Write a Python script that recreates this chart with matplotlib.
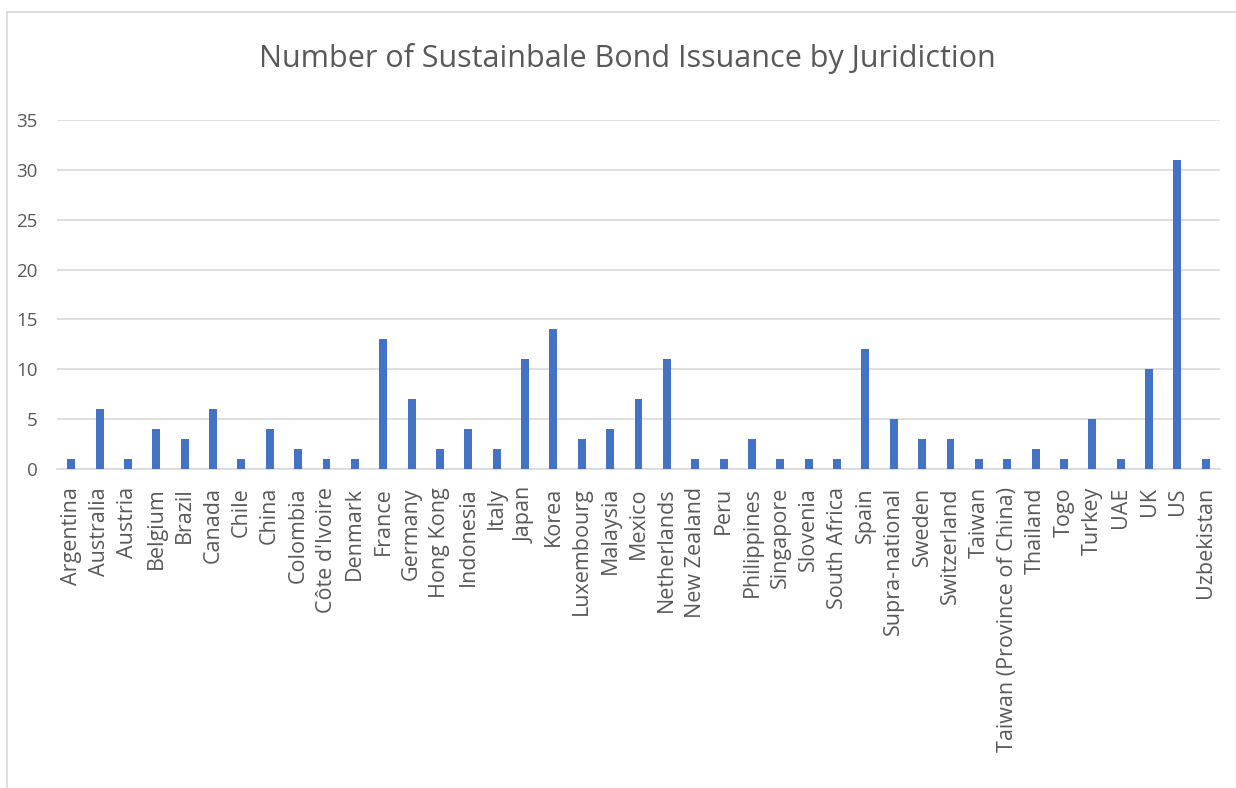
import matplotlib.pyplot as plt
import numpy as np

# jurisdictions and number of issuances
countries = ['Argentina', 'Australia', 'Austria', 'Belgium', 'Brazil', 'Canada',
             'Chile', 'China', 'Colombia', 'Côte d\'Ivoire', 'Denmark', 'France',
             'Germany', 'Hong Kong', 'Indonesia', 'Italy', 'Japan', 'Korea',
             'Luxembourg', 'Malaysia', 'Mexico', 'Netherlands', 'New Zealand',
             'Peru', 'Philippines', 'Singapore', 'Slovenia', 'South Africa',
             'Spain', 'Supra-national', 'Sweden', 'Switzerland', 'Taiwan',
             'Taiwan (Province of China)', 'Thailand', 'Togo', 'Turkey', 'UAE',
             'UK', 'US', 'Uzbekistan']
counts = [1, 6, 1, 4, 3, 6, 1, 4, 2, 1, 1, 13, 7, 2, 4, 2, 11, 14, 3, 4, 7, 11,
          1, 1, 3, 1, 1, 1, 12, 5, 3, 3, 1, 1, 2, 1, 5, 1, 10, 31, 1]
yticks = [0, 5, 10, 15, 20, 25, 30, 35]

grey = '#595959'
plt.rcParams['font.family'] = ['Open Sans', 'DejaVu Sans']

fig = plt.figure(figsize=(12.36, 7.88), dpi=100)
# light chart frame (only left and top edges visible in the crop)
fig.add_artist(plt.Line2D([7 / 1236, 7 / 1236], [0, 1 - 12 / 788],
                          color='#d9d9d9', lw=1.2, transform=fig.transFigure))
fig.add_artist(plt.Line2D([7 / 1236, 1], [1 - 12 / 788, 1 - 12 / 788],
                          color='#d9d9d9', lw=1.2, transform=fig.transFigure))

ax = fig.add_axes([57 / 1236, 1 - 469 / 788, (1220 - 57) / 1236, (469 - 120) / 788])
x = np.arange(len(countries))
ax.bar(x, counts, width=0.28, color='#4472C4', zorder=3)

ax.set_xlim(-0.5, len(countries) - 0.5)
ax.set_ylim(0, 35)
ax.set_yticks(yticks)
ax.set_yticklabels([str(v) for v in yticks], fontsize=13.5, color=grey)
ax.set_xticks(x)
ax.set_xticklabels(countries, rotation=90, fontsize=15.5, color=grey)
ax.tick_params(length=0)
ax.tick_params(axis='x', pad=13)
ax.tick_params(axis='y', pad=14)
ax.grid(axis='y', color='#d9d9d9', lw=1.2, zorder=0)
for s in ['top', 'right', 'left']:
    ax.spines[s].set_visible(False)
ax.spines['bottom'].set_color('#d9d9d9')
ax.spines['bottom'].set_linewidth(1.2)

fig.text(627 / 1236, 1 - 59 / 788, 'Number of Sustainbale Bond Issuance by Juridiction',
         ha='center', va='center', fontsize=22, color=grey)

fig.savefig('out.png', dpi=100)
